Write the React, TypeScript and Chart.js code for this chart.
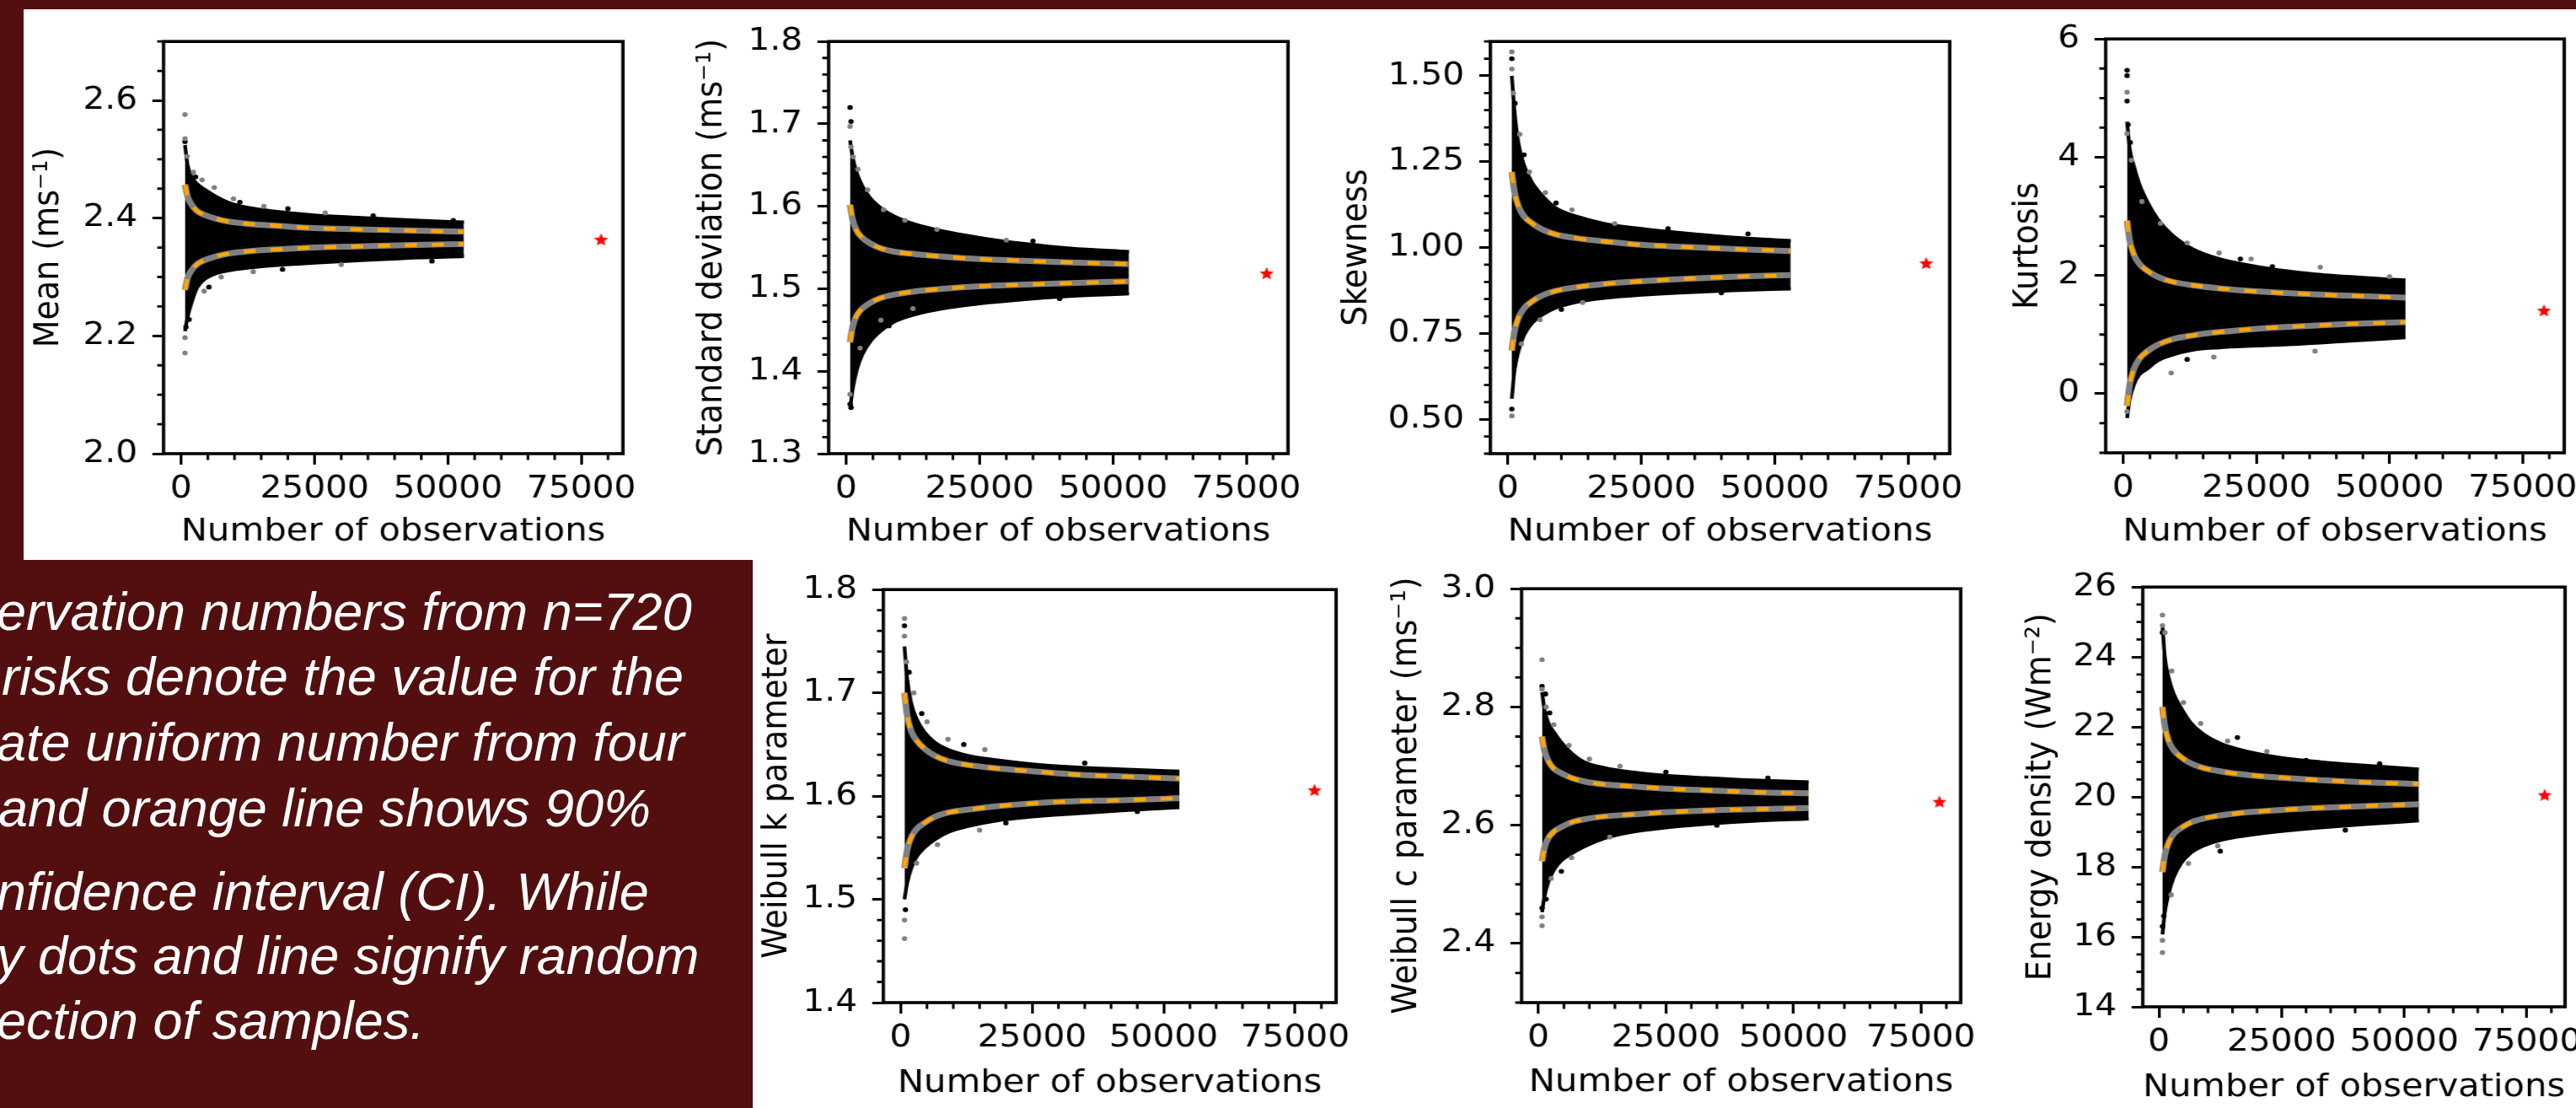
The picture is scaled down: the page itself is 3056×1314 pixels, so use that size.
import React, { useEffect, useRef } from 'react';
import { Chart, registerables } from 'chart.js';

Chart.register(...registerables);

// ---------- shared data ----------
const N_OBS = [720, 1200, 2000, 3000, 4500, 6500, 9000, 13000, 18000, 25000, 33000, 42000, 53000];
const X_TICKS = [0, 25000, 50000, 75000];
const X_TICK_LABELS = ['0', '25000', '50000', '75000'];
const X_MIN = -3300;
const X_MAX = 82800;
const X_TITLE = 'Number of observations';

// ---------- Mean ----------
const MEAN_ENV_UP = [2.524, 2.49, 2.47, 2.458, 2.448, 2.437, 2.426, 2.417, 2.411, 2.405, 2.401, 2.397, 2.393];
const MEAN_ENV_LO = [2.208, 2.232, 2.258, 2.282, 2.297, 2.306, 2.311, 2.316, 2.32, 2.324, 2.328, 2.332, 2.335];
const MEAN_CI_UP = [2.457, 2.437, 2.422, 2.412, 2.405, 2.399, 2.394, 2.39, 2.387, 2.383, 2.381, 2.379, 2.377];
const MEAN_CI_LO = [2.278, 2.298, 2.312, 2.322, 2.329, 2.335, 2.34, 2.344, 2.347, 2.35, 2.352, 2.354, 2.356];
const MEAN_GRAY = [[720, 2.576], [720, 2.535], [720, 2.197], [720, 2.171], [1100, 2.505], [2300, 2.478], [3900, 2.465], [6200, 2.452], [9800, 2.433], [15500, 2.42], [27000, 2.409], [4300, 2.276], [7500, 2.3], [13500, 2.309], [30000, 2.321]];
const MEAN_BLACK = [[720, 2.53], [900, 2.215], [1500, 2.228], [2700, 2.47], [5200, 2.283], [11000, 2.427], [20000, 2.416], [36000, 2.404], [51000, 2.396], [47000, 2.327], [19000, 2.313]];
const MEAN_STAR = [78700, 2.364];
const MEAN_Y_TICKS = ['2.0', '2.2', '2.4', '2.6'];

// ---------- Standard deviation ----------
const STD_ENV_UP = [1.68, 1.66, 1.64, 1.625, 1.61, 1.598, 1.588, 1.578, 1.57, 1.562, 1.555, 1.549, 1.545];
const STD_ENV_LO = [1.354, 1.378, 1.402, 1.42, 1.436, 1.449, 1.46, 1.469, 1.476, 1.482, 1.487, 1.491, 1.494];
const STD_CI_UP = [1.602, 1.584, 1.57, 1.562, 1.555, 1.549, 1.545, 1.542, 1.539, 1.536, 1.534, 1.532, 1.53];
const STD_CI_LO = [1.435, 1.454, 1.468, 1.476, 1.483, 1.489, 1.493, 1.497, 1.5, 1.503, 1.505, 1.507, 1.509];
const STD_GRAY = [[720, 1.697], [900, 1.672], [720, 1.372], [1300, 1.66], [2200, 1.645], [4000, 1.62], [7000, 1.596], [11000, 1.583], [17000, 1.572], [2600, 1.428], [6500, 1.462], [12500, 1.476], [30000, 1.559]];
const STD_BLACK = [[720, 1.72], [900, 1.703], [720, 1.36], [900, 1.356], [13500, 1.574], [35000, 1.558], [40000, 1.488], [8000, 1.455], [3200, 1.43]];
const STD_STAR = [78800, 1.519];
const STD_Y_TICKS = ['1.3', '1.4', '1.5', '1.6', '1.7', '1.8'];

// ---------- Skewness ----------
const SKEW_ENV_UP = [1.5, 1.4, 1.3, 1.24, 1.19, 1.15, 1.115, 1.09, 1.07, 1.055, 1.042, 1.03, 1.02];
const SKEW_ENV_LO = [0.56, 0.64, 0.7, 0.745, 0.78, 0.805, 0.825, 0.842, 0.853, 0.862, 0.869, 0.875, 0.88];
const SKEW_CI_UP = [1.22, 1.163, 1.119, 1.091, 1.071, 1.052, 1.038, 1.027, 1.018, 1.008, 1.002, 0.996, 0.99];
const SKEW_CI_LO = [0.7, 0.755, 0.797, 0.823, 0.843, 0.861, 0.874, 0.885, 0.894, 0.902, 0.909, 0.915, 0.92];
const SKEW_GRAY = [[720, 1.57], [720, 1.52], [720, 0.51], [1000, 1.45], [2200, 1.33], [4000, 1.22], [7000, 1.16], [12000, 1.11], [20000, 1.07], [2500, 0.72], [6000, 0.79], [14000, 0.84]];
const SKEW_BLACK = [[720, 1.55], [720, 0.53], [1300, 1.42], [3000, 1.27], [9000, 1.13], [30000, 1.055], [45000, 1.04], [10000, 0.82], [40000, 0.868]];
const SKEW_STAR = [78400, 0.955];
const SKEW_Y_TICKS = ['0.50', '0.75', '1.00', '1.25', '1.50'];

// ---------- Kurtosis ----------
const KURT_ENV_UP = [4.6, 4.15, 3.85, 3.55, 3.25, 2.95, 2.7, 2.45, 2.28, 2.15, 2.05, 1.98, 1.92];
const KURT_ENV_LO = [-0.41, -0.1, 0.15, 0.32, 0.42, 0.56, 0.65, 0.74, 0.78, 0.81, 0.84, 0.89, 0.95];
const KURT_CI_UP = [2.926, 2.601, 2.354, 2.198, 2.081, 1.977, 1.899, 1.834, 1.782, 1.73, 1.691, 1.659, 1.626];
const KURT_CI_LO = [-0.207, 0.148, 0.417, 0.588, 0.715, 0.829, 0.914, 0.985, 1.042, 1.098, 1.141, 1.177, 1.212];
const KURT_GRAY = [[720, 5.1], [720, 4.4], [720, -0.3], [1500, 3.95], [3500, 3.25], [7000, 2.88], [12000, 2.55], [18000, 2.38], [24000, 2.28], [37000, 2.14], [9000, 0.35], [17000, 0.62], [36000, 0.72], [50000, 1.98]];
const KURT_BLACK = [[720, 5.47], [720, 5.38], [720, 4.95], [900, 4.55], [1300, 4.25], [2600, 3.6], [22000, 2.28], [28000, 2.15], [4000, 0.42], [12000, 0.58]];
const KURT_STAR = [79000, 1.41];
const KURT_Y_TICKS = ['0', '2', '4', '6'];

// ---------- Weibull k ----------
const WK_ENV_UP = [1.745, 1.715, 1.69, 1.675, 1.662, 1.652, 1.645, 1.639, 1.635, 1.631, 1.628, 1.626, 1.624];
const WK_ENV_LO = [1.5, 1.515, 1.53, 1.541, 1.55, 1.558, 1.565, 1.571, 1.576, 1.58, 1.583, 1.586, 1.589];
const WK_CI_UP = [1.7, 1.679, 1.663, 1.654, 1.646, 1.639, 1.634, 1.63, 1.627, 1.624, 1.621, 1.619, 1.617];
const WK_CI_LO = [1.53, 1.547, 1.56, 1.568, 1.574, 1.58, 1.584, 1.587, 1.59, 1.593, 1.595, 1.596, 1.598];
const WK_GRAY = [[720, 1.772], [720, 1.755], [720, 1.462], [720, 1.48], [1100, 1.73], [2500, 1.7], [5000, 1.672], [9000, 1.655], [16000, 1.645], [3000, 1.535], [7000, 1.553], [15000, 1.567]];
const WK_BLACK = [[720, 1.765], [900, 1.49], [1600, 1.72], [4000, 1.68], [12000, 1.65], [35000, 1.632], [20000, 1.574], [45000, 1.585]];
const WK_STAR = [78700, 1.606];
const WK_Y_TICKS = ['1.4', '1.5', '1.6', '1.7', '1.8'];

// ---------- Weibull c ----------
const WC_ENV_UP = [2.825, 2.795, 2.772, 2.758, 2.74, 2.722, 2.707, 2.697, 2.69, 2.684, 2.68, 2.676, 2.673];
const WC_ENV_LO = [2.453, 2.48, 2.505, 2.524, 2.54, 2.552, 2.564, 2.578, 2.588, 2.596, 2.602, 2.607, 2.611];
const WC_CI_UP = [2.75, 2.726, 2.708, 2.696, 2.688, 2.68, 2.674, 2.669, 2.666, 2.662, 2.659, 2.656, 2.654];
const WC_CI_LO = [2.539, 2.562, 2.579, 2.589, 2.597, 2.605, 2.61, 2.615, 2.618, 2.622, 2.625, 2.627, 2.629];
const WC_GRAY = [[720, 2.88], [720, 2.83], [720, 2.445], [720, 2.43], [1500, 2.8], [3000, 2.77], [6000, 2.735], [10000, 2.712], [16000, 2.7], [2500, 2.51], [6500, 2.545], [14000, 2.58]];
const WC_BLACK = [[720, 2.835], [1400, 2.822], [2200, 2.79], [720, 2.46], [1500, 2.475], [4500, 2.522], [25000, 2.69], [45000, 2.68], [35000, 2.6]];
const WC_STAR = [78650, 2.64];
const WC_Y_TICKS = ['2.4', '2.6', '2.8', '3.0'];

// ---------- Energy density ----------
const ED_ENV_UP = [24.9, 24.0, 23.4, 22.95, 22.55, 22.12, 21.8, 21.5, 21.3, 21.12, 21.0, 20.9, 20.79];
const ED_ENV_LO = [16.07, 16.7, 17.25, 17.7, 18.1, 18.4, 18.6, 18.78, 18.9, 19.02, 19.12, 19.22, 19.32];
const ED_CI_UP = [22.57, 22.02, 21.6, 21.34, 21.14, 20.96, 20.83, 20.72, 20.63, 20.55, 20.48, 20.42, 20.37];
const ED_CI_LO = [17.85, 18.33, 18.7, 18.94, 19.11, 19.27, 19.38, 19.48, 19.56, 19.63, 19.69, 19.74, 19.79];
const ED_GRAY = [[720, 25.2], [720, 24.9], [720, 15.55], [720, 15.9], [1200, 24.7], [2600, 23.6], [5000, 22.7], [8500, 22.1], [14000, 21.6], [22000, 21.3], [2500, 17.2], [6000, 18.1], [12000, 18.6]];
const ED_BLACK = [[720, 24.7], [720, 16.3], [1000, 16.6], [12500, 18.45], [16000, 21.7], [30000, 21.05], [45000, 20.95], [38000, 19.05]];
const ED_STAR = [78650, 20.06];
const ED_Y_TICKS = ['14', '16', '18', '20', '22', '24', '26'];

// ---------- caption ----------
const CAPTION_LINES = [
  'ervation numbers from n=720',
  'risks denote the value for the',
  'ate uniform number from four',
  'and orange line shows 90%',
  'nfidence interval (CI). While',
  'y dots and line signify random',
  'ection of samples.',
];
const CAPTION_BASELINES = [747, 824, 902, 980, 1079, 1155, 1232];
const CAPTION_LEFT = [-4, 2, -4, -2, -4, -4, -4];

// ---------- layout / style ----------
const K = 1.1; // horizontal stretch of the original figure
const FONT = "'DejaVu Sans', sans-serif";
const BG = '#530f0f';
const PAD_T = 30;
const PAD_R = 34;
const PAD_B = 122;
const TICK_SIZE = 37;
const TITLE_SIZE = 38;
const CAPTION_SIZE = 63;

const PANELS = [
  { id: 'mean', L: 194, R: 739, T: 41, B: 538, padL: 180, titleX: 58, titleGap: 93, yMin: 2.0, yMax: 2.7, minor: 0.05, yTicks: MEAN_Y_TICKS, yTitle: 'Mean (ms\u207B\u00B9)', envUp: MEAN_ENV_UP, envLo: MEAN_ENV_LO, ciUp: MEAN_CI_UP, ciLo: MEAN_CI_LO, gray: MEAN_GRAY, black: MEAN_BLACK, star: MEAN_STAR },
  { id: 'std', L: 983, R: 1528, T: 41, B: 538, padL: 180, titleX: 845, titleGap: 93, yMin: 1.3, yMax: 1.8, minor: 0.02, yTicks: STD_Y_TICKS, yTitle: 'Standard deviation (ms\u207B\u00B9)', envUp: STD_ENV_UP, envLo: STD_ENV_LO, ciUp: STD_CI_UP, ciLo: STD_CI_LO, gray: STD_GRAY, black: STD_BLACK, star: STD_STAR },
  { id: 'skew', L: 1768, R: 2313, T: 41, B: 538, padL: 210, titleX: 1610, titleGap: 93, yMin: 0.4, yMax: 1.6, minor: 0.05, yTicks: SKEW_Y_TICKS, yTitle: 'Skewness', envUp: SKEW_ENV_UP, envLo: SKEW_ENV_LO, ciUp: SKEW_CI_UP, ciLo: SKEW_CI_LO, gray: SKEW_GRAY, black: SKEW_BLACK, star: SKEW_STAR },
  { id: 'kurt', L: 2498, R: 3042, T: 38, B: 537, padL: 180, titleX: 2406, titleGap: 94, yMin: -1, yMax: 6, minor: 0.5, yTicks: KURT_Y_TICKS, yTitle: 'Kurtosis', envUp: KURT_ENV_UP, envLo: KURT_ENV_LO, ciUp: KURT_CI_UP, ciLo: KURT_CI_LO, gray: KURT_GRAY, black: KURT_BLACK, star: KURT_STAR },
  { id: 'wk', L: 1048, R: 1585, T: 691, B: 1189, padL: 180, titleX: 922, titleGap: 96, yMin: 1.4, yMax: 1.8, minor: 0.02, yTicks: WK_Y_TICKS, yTitle: 'Weibull k parameter', envUp: WK_ENV_UP, envLo: WK_ENV_LO, ciUp: WK_CI_UP, ciLo: WK_CI_LO, gray: WK_GRAY, black: WK_BLACK, star: WK_STAR },
  { id: 'wc', L: 1805, R: 2326, T: 690, B: 1189, padL: 180, titleX: 1669, titleGap: 95, yMin: 2.3, yMax: 3.0, minor: 0.05, yTicks: WC_Y_TICKS, yTitle: 'Weibull c parameter (ms\u207B\u00B9)', envUp: WC_ENV_UP, envLo: WC_ENV_LO, ciUp: WC_CI_UP, ciLo: WC_CI_LO, gray: WC_GRAY, black: WC_BLACK, star: WC_STAR },
  { id: 'ed', L: 2542, R: 3043, T: 688, B: 1194, padL: 180, titleX: 2422, titleGap: 96, yMin: 14, yMax: 26, minor: 0.5, yTicks: ED_Y_TICKS, yTitle: 'Energy density (Wm\u207B\u00B2)', envUp: ED_ENV_UP, envLo: ED_ENV_LO, ciUp: ED_CI_UP, ciLo: ED_CI_LO, gray: ED_GRAY, black: ED_BLACK, star: ED_STAR },
];

let starImg: HTMLCanvasElement | null = null;
function getStar() {
  if (starImg) return starImg;
  const size = 16;
  const c = document.createElement('canvas');
  c.width = size;
  c.height = size;
  const g = c.getContext('2d')!;
  g.fillStyle = '#ff0000';
  g.beginPath();
  for (let i = 0; i < 10; i++) {
    const r = i % 2 === 0 ? size / 2 : (size / 2) * 0.45;
    const a = -Math.PI / 2 + (i * Math.PI) / 5;
    const px = size / 2 + r * Math.cos(a);
    const py = size / 2 + 0.8 + r * Math.sin(a);
    if (i === 0) g.moveTo(px, py);
    else g.lineTo(px, py);
  }
  g.closePath();
  g.fill();
  starImg = c;
  return c;
}

function makeConfig(p: any, cssLeft: number): any {
  const pts = (ys: number[]) => N_OBS.map((x, i) => ({ x, y: ys[i] }));
  const pairs = (arr: number[][]) => arr.map(([x, y]) => ({ x, y }));
  const yVals = p.yTicks.map(Number);
  const titleLH = TITLE_SIZE * 1.2;
  const yTitlePad = (p.titleX - cssLeft) / K - titleLH / 2;
  const xTitlePad = PAD_B - p.titleGap - titleLH / 2;

  const minorY: number[] = [];
  const count = Math.round((p.yMax - p.yMin) / p.minor);
  for (let i = 0; i <= count; i++) {
    const v = p.yMin + i * p.minor;
    if (yVals.some((m: number) => Math.abs(m - v) < p.minor / 10)) continue;
    minorY.push(v);
  }
  const minorX: number[] = [];
  for (let v = 0; v <= 80000; v += 5000) if (v % 25000 !== 0) minorX.push(v);

  const frame = {
    id: 'frame',
    afterDraw(chart: any) {
      const { ctx, chartArea: a, scales } = chart;
      ctx.save();
      ctx.strokeStyle = '#000';
      ctx.lineWidth = 2.8;
      ctx.beginPath();
      minorX.forEach((v) => {
        const px = scales.x.getPixelForValue(v);
        ctx.moveTo(px, a.bottom);
        ctx.lineTo(px, a.bottom + 7.5);
      });
      minorY.forEach((v) => {
        const py = scales.y.getPixelForValue(v);
        ctx.moveTo(a.left, py);
        ctx.lineTo(a.left - 7.5 / K, py);
      });
      ctx.stroke();
      ctx.lineWidth = 3.6;
      ctx.strokeRect(a.left, a.top, a.right - a.left, a.bottom - a.top);
      ctx.restore();
    },
  };

  const lineBase = { pointRadius: 0, fill: false, cubicInterpolationMode: 'monotone' };
  const dotBase = { showLine: false, pointRadius: 2.9, pointBorderWidth: 0 };

  return {
    type: 'line',
    data: {
      datasets: [
        { data: [{ x: p.star[0], y: p.star[1] }], showLine: false, pointStyle: getStar(), pointRadius: 8 },
        { ...lineBase, data: pts(p.ciUp), borderColor: '#FFA500', borderWidth: 4.5, borderDash: [13, 16] },
        { ...lineBase, data: pts(p.ciLo), borderColor: '#FFA500', borderWidth: 4.5, borderDash: [13, 16] },
        { ...lineBase, data: pts(p.ciUp), borderColor: '#808080', borderWidth: 7 },
        { ...lineBase, data: pts(p.ciLo), borderColor: '#808080', borderWidth: 7 },
        { ...dotBase, data: pairs(p.gray), pointBackgroundColor: '#808080' },
        { ...dotBase, data: pairs(p.black), pointBackgroundColor: '#000000' },
        { ...lineBase, data: pts(p.envUp), borderColor: '#000', borderWidth: 4, backgroundColor: '#000', fill: '+1' },
        { ...lineBase, data: pts(p.envLo), borderColor: '#000', borderWidth: 4 },
      ],
    },
    options: {
      responsive: false,
      maintainAspectRatio: false,
      animation: false,
      devicePixelRatio: 1,
      events: [],
      layout: { padding: { top: PAD_T, right: PAD_R / K, left: 0, bottom: 0 } },
      plugins: { legend: { display: false }, tooltip: { enabled: false } },
      scales: {
        x: {
          type: 'linear',
          min: X_MIN,
          max: X_MAX,
          afterBuildTicks: (s: any) => { s.ticks = X_TICKS.map((v) => ({ value: v })); },
          afterFit: (s: any) => { s.height = PAD_B; },
          ticks: { font: { family: FONT, size: TICK_SIZE }, color: '#000', padding: 7, maxRotation: 0, autoSkip: false, callback: (_v: any, i: number) => X_TICK_LABELS[i] },
          grid: { drawOnChartArea: false, drawTicks: true, tickLength: 13, tickWidth: 3, tickColor: '#000' },
          border: { display: false },
          title: { display: true, text: X_TITLE, font: { family: FONT, size: TITLE_SIZE }, color: '#000', padding: { top: 0, bottom: xTitlePad } },
        },
        y: {
          type: 'linear',
          min: p.yMin,
          max: p.yMax,
          afterBuildTicks: (s: any) => { s.ticks = yVals.map((v: number) => ({ value: v })); },
          afterFit: (s: any) => { s.width = p.padL / K; },
          ticks: { font: { family: FONT, size: TICK_SIZE }, color: '#000', padding: 16, autoSkip: false, callback: (_v: any, i: number) => p.yTicks[i] },
          grid: { drawOnChartArea: false, drawTicks: true, tickLength: 12, tickWidth: 3, tickColor: '#000' },
          border: { display: false },
          title: { display: true, text: p.yTitle, font: { family: FONT, size: TITLE_SIZE }, color: '#000', padding: { top: yTitlePad, bottom: 0 } },
        },
      },
    },
    plugins: [frame],
  };
}

function ChartPanel({ p }: { p: any }) {
  const ref = useRef<HTMLCanvasElement>(null);
  const cssLeft = p.L - p.padL;
  const cssTop = p.T - PAD_T;
  const cssW = p.R - p.L + p.padL + PAD_R;
  const cssH = p.B - p.T + PAD_T + PAD_B;
  const intW = Math.round(cssW / K);
  useEffect(() => {
    const canvas = ref.current;
    if (!canvas) return;
    canvas.width = intW;
    canvas.height = cssH;
    canvas.style.width = cssW + 'px';
    canvas.style.height = cssH + 'px';
    const chart = new Chart(canvas, makeConfig(p, cssLeft));
    return () => chart.destroy();
  }, []);
  return (
    <canvas
      ref={ref}
      width={intW}
      height={cssH}
      style={{ position: 'absolute', left: cssLeft, top: cssTop, width: cssW, height: cssH, display: 'block' }}
    />
  );
}

export default function App() {
  return (
    <div style={{ position: 'fixed', left: 0, top: 0, width: 3056, height: 1314, background: BG, overflow: 'hidden' }}>
      <div style={{ position: 'absolute', left: 28, top: 11, width: 3028, height: 653, background: '#ffffff' }} />
      <div style={{ position: 'absolute', left: 893, top: 664, width: 2163, height: 650, background: '#ffffff' }} />
      {CAPTION_LINES.map((t, i) => (
        <div
          key={i}
          style={{
            position: 'absolute',
            left: CAPTION_LEFT[i],
            top: CAPTION_BASELINES[i] - CAPTION_SIZE * 0.847,
            fontFamily: "'Liberation Sans', Arial, sans-serif",
            fontStyle: 'italic',
            fontSize: CAPTION_SIZE,
            lineHeight: CAPTION_SIZE + 'px',
            color: '#ffffff',
            whiteSpace: 'nowrap',
          }}
        >
          {t}
        </div>
      ))}
      {PANELS.map((p) => (
        <ChartPanel key={p.id} p={p} />
      ))}
    </div>
  );
}
